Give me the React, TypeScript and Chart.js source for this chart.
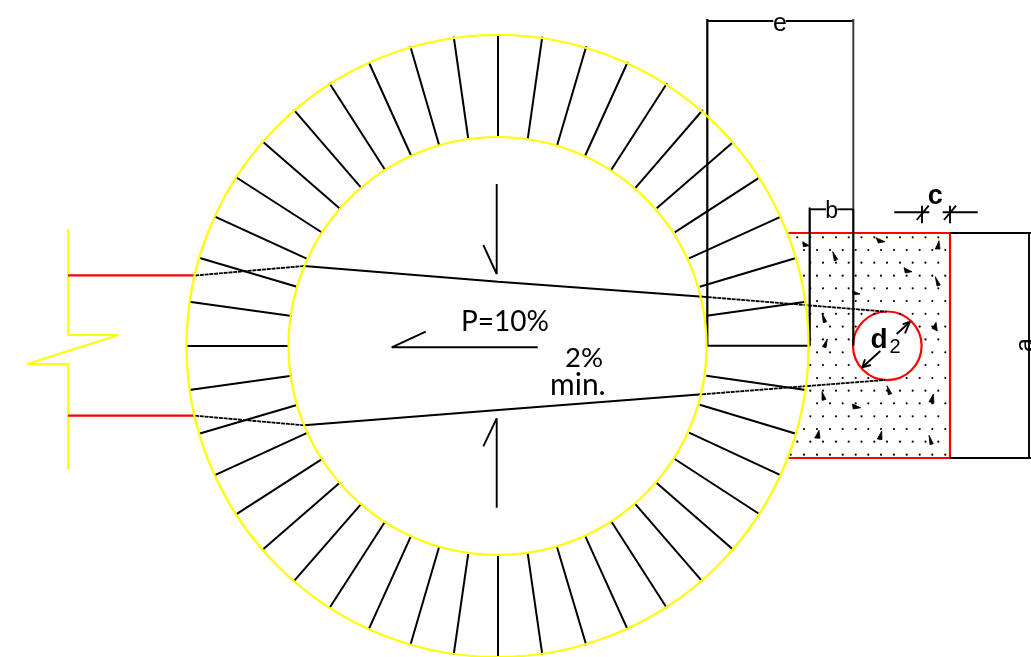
import React, { useEffect, useRef } from "react";
import { Chart, registerables } from "chart.js";

Chart.register(...registerables);

const WIDTH = 1031;
const HEIGHT = 657;

// Rings: centre x, centre y, radius (radius is read in pixels)
const yellowRings = [
  { x: 497.5, y: 346, r: 311 },
  { x: 497.5, y: 346, r: 209 },
];
const redCircle = [{ x: 887.3, y: 345.8, r: 34.3 }];

// Radial spokes between the two rings: x1, y1, x2, y2
const spokes = [
  [186, 346, 289, 346],
  [189.3, 301.7, 291.7, 316],
  [199, 257.7, 297.7, 287],
  [214.3, 216.3, 306.7, 258.7],
  [235.7, 177, 322.7, 233],
  [262.3, 141.3, 340.3, 209],
  [293.7, 109.7, 361.7, 188.3],
  [329.3, 83, 385.3, 170.3],
  [368.7, 62, 411.3, 156],
  [410.3, 46.3, 439.3, 145.7],
  [453.7, 36.7, 468.3, 139],
  [498, 34, 498, 137],
  [542.3, 36.7, 527.7, 139.3],
  [586.3, 46.3, 557, 145.7],
  [627.7, 62, 585, 156],
  [667, 83.3, 611, 170.3],
  [702.7, 110, 635, 188.3],
  [733, 142.3, 656.7, 208.3],
  [759.3, 177.7, 674.7, 232.3],
  [781, 216.7, 689, 258.3],
  [796, 258, 699.7, 286.7],
  [806, 301.7, 706.7, 315.7],
  [707.3, 345.7, 809.7, 345.7],
  [806, 390, 706.3, 375.7],
  [796, 433.7, 699.7, 404.7],
  [781, 475.3, 689, 432.7],
  [759.3, 514, 674.7, 459],
  [733.3, 549.7, 656.7, 483],
  [702.3, 581.3, 634.7, 503.3],
  [667, 608.3, 611, 521],
  [627.7, 629.7, 585, 535.7],
  [586.3, 645.3, 557, 547],
  [542.3, 654.7, 527.7, 553.3],
  [498, 656.7, 498, 555.7],
  [453.7, 654.7, 468.3, 553.3],
  [410.3, 645.3, 439.3, 546.3],
  [368.7, 629.3, 411.3, 535.3],
  [329.3, 608.3, 385.3, 521.3],
  [293.7, 581.3, 361.7, 503.3],
  [262.3, 550, 340.3, 482.3],
  [235.7, 514.7, 322.7, 458.7],
  [214.3, 475.3, 308.3, 432.3],
  [199, 433.7, 297.7, 404.7],
  [189.3, 390, 291.7, 375.7],
];

// The two pipe lines through the wall: solid and hidden (dashed) parts
const pipeSolid = [
  [304, 266, 498.3, 281.7, 703, 296.7],
  [304, 425.3, 498.3, 410, 702, 394.3],
];
const pipeDashed = [
  [195, 275.5, 304, 266],
  [703, 296.7, 886.7, 311.7],
  [195, 415.7, 304, 425.3],
  [702, 394.3, 885, 380],
];

const redLines = [
  [68, 275.3, 195, 275.3],
  [68, 415.7, 195, 415.7],
  [788.3, 233, 950, 233, 950, 458, 788.3, 458],
];
const yellowBreak = [68.3, 229.3, 68.3, 335, 118.3, 335, 27.3, 364, 68.3, 364, 68.3, 469.3];

// Dimension lines and arrows
const blackHeavy = [
  [707.3, 19, 707.3, 345.7],
  [853.3, 209, 853.3, 345.7],
  [809.7, 207.5, 809.7, 345.7],
];
const blackGrey = [[853.3, 19, 853.3, 209]];
const blackThin = [
  [707.3, 21, 773.3, 21],
  [786, 21, 853.3, 21],
  [809.7, 209.3, 826, 209.3],
  [837.3, 209.3, 853.3, 209.3],
  [894.3, 212.3, 929.3, 212.3],
  [942.7, 212.3, 977.7, 212.3],
  [922, 205.7, 922, 223.3],
  [950, 205.7, 950, 223.3],
  [916.7, 220, 928.7, 205.7],
  [944, 220, 956, 205.7],
  [950, 233, 1031, 233],
  [950, 458, 1031, 458],
  [1029, 233, 1029, 458],
  [880.3, 351, 862.3, 367.3],
  [865, 359.3, 862.3, 367.3, 870.7, 365],
  [896.7, 334, 910, 321.7],
  [902.7, 324.3, 910, 321.7, 905, 333.3],
  [496.7, 184, 496.7, 274, 483.3, 245],
  [496.7, 507.7, 496.7, 418.3, 483.3, 446.3],
  [537.7, 347.3, 391.7, 347.3, 425.7, 331.7],
];

// Concrete hatch: small wedges
const wedges = [
  [802.7, 241.7, 809.3, 245.7, 803.3, 246.7],
  [832.7, 251.7, 837.7, 259.3, 834.3, 261],
  [876, 237.7, 885, 241.7, 878.3, 243],
  [939, 240.7, 940, 249, 935.3, 249],
  [904, 267.7, 912, 271.7, 905.3, 273],
  [935.3, 276.7, 940.3, 285, 937, 286],
  [852.7, 291, 860, 294, 853.3, 294.7],
  [822, 313.3, 826.7, 321.7, 823.3, 322.7],
  [936, 322.3, 937.3, 331, 932, 328.3],
  [827.3, 339, 826, 347.7, 822.3, 346.7],
  [822, 391.7, 826, 399.3, 822.7, 400.3],
  [887, 385.7, 891.7, 393.7, 888.3, 394.7],
  [933.3, 394, 934, 403.3, 929, 401.7],
  [852.3, 404, 860.7, 407.7, 853.3, 409],
  [819, 430.3, 820, 438.3, 814.7, 438],
  [881.7, 431, 882, 439.7, 877.3, 439],
  [929, 435.3, 933.3, 443.7, 930, 444.7],
];

// Concrete hatch: dots by row
const dotRowY = [
  237.3, 250, 262.7, 275.7, 288.3, 301, 313.8, 326.6, 339.4, 352.3, 365, 378, 390.7, 403.3, 416.3, 429, 441.7,
  454.7,
];
const dotRowX = [
  [797.3, 810.3, 823, 836, 848.7, 861.5, 874.3, 887, 900, 912.7, 925.5, 938.3],
  [804, 817, 830, 842.7, 855.7, 868.3, 881, 894, 906.7, 919.7, 932.3, 945.3],
  [810.3, 823, 836, 848.7, 861.5, 874.3, 887, 900, 912.7, 925.5, 938.3],
  [804, 817, 830, 842.7, 855.7, 868.3, 881, 894, 906.7, 919.7, 932.3, 945.3],
  [810.3, 823, 836, 848.7, 861.5, 874.3, 887, 900, 912.7, 925.5, 938.3],
  [817, 830, 842.7, 855.7, 868.3, 881, 894, 906.7, 919.7, 932.3, 945.3],
  [810.3, 823, 836, 848.7, 861.5, 874.3, 900, 912.7, 925.5, 938.3],
  [817, 830, 842.7, 855.7, 919.7, 932.3, 945.3],
  [810.3, 823, 836, 848.7, 925.5, 938.3],
  [817, 830, 842.7, 932.3, 945.3],
  [810.3, 823, 836, 848.7, 925.5, 938.3],
  [817, 830, 842.7, 855.7, 868.3, 906.7, 919.7, 932.3, 945.3],
  [810.3, 823, 836, 848.7, 861.5, 874.3, 887, 900, 912.7, 925.5, 938.3],
  [817, 830, 842.7, 855.7, 868.3, 881, 894, 906.7, 919.7, 932.3, 945.3],
  [810.3, 823, 836, 848.7, 861.5, 874.3, 887, 900, 912.7, 925.5, 938.3],
  [804, 817, 830, 842.7, 855.7, 868.3, 881, 894, 906.7, 919.7, 932.3, 945.3],
  [797.3, 810.3, 823, 836, 848.7, 861.5, 874.3, 887, 900, 912.7, 925.5, 938.3],
  [790.7, 804, 817, 830, 842.7, 855.7, 868.3, 881, 894, 906.7, 919.7, 932.3, 945.3],
];

// Text labels
const labels = [
  { text: "P=10%", x: 461, y: 330.7, font: "28px Lato", align: "left", rot: 0 },
  { text: "2%", x: 565, y: 366.7, font: "27.5px Lato", align: "left", rot: 0 },
  { text: "min.", x: 550, y: 395, font: "30px Lato", align: "left", rot: 0 },
  { text: "e", x: 780, y: 31, font: "25px 'Liberation Sans'", align: "center", rot: 0 },
  { text: "b", x: 831.7, y: 218, font: "23px 'Liberation Sans'", align: "center", rot: 0 },
  { text: "c", x: 935.3, y: 204, font: "bold 27px 'Liberation Sans'", align: "center", rot: 0 },
  { text: "d", x: 879, y: 348, font: "bold 28px 'Liberation Sans'", align: "center", rot: 0 },
  { text: "2", x: 895, y: 352.5, font: "20px 'Liberation Sans'", align: "center", rot: 0 },
  { text: "a", x: 1033, y: 345, font: "25px 'Liberation Sans'", align: "center", rot: -90 },
];

const toPoints = (flat: number[]) => {
  const pts = [];
  for (let i = 0; i < flat.length; i += 2) pts.push({ x: flat[i], y: flat[i + 1] });
  return pts;
};

const lineSet = (flat: number[], color: string, width: number, extra: object = {}) => ({
  data: toPoints(flat),
  showLine: true,
  borderColor: color,
  borderWidth: width,
  borderJoinStyle: "bevel",
  pointRadius: 0,
  pointHoverRadius: 0,
  tension: 0,
  fill: false,
  clip: false,
  ...extra,
});

const circleSet = (c: { x: number; y: number; r: number }, color: string, width: number) => ({
  data: [{ x: c.x, y: c.y }],
  showLine: false,
  pointRadius: c.r,
  pointHoverRadius: c.r,
  pointBackgroundColor: "rgba(0,0,0,0)",
  pointBorderColor: color,
  pointBorderWidth: width,
  clip: false,
});

const textPlugin = {
  id: "drawingText",
  afterDraw(chart: any) {
    const { ctx, scales } = chart;
    ctx.save();
    ctx.fillStyle = "#000000";
    ctx.textBaseline = "alphabetic";
    for (const l of labels) {
      ctx.save();
      ctx.translate(scales.x.getPixelForValue(l.x), scales.y.getPixelForValue(l.y));
      ctx.rotate((l.rot * Math.PI) / 180);
      ctx.font = l.font;
      ctx.textAlign = l.align;
      ctx.fillText(l.text, 0, 0);
      ctx.restore();
    }
    ctx.restore();
  },
};

export default function App() {
  const ref = useRef<HTMLCanvasElement | null>(null);

  useEffect(() => {
    document.body.style.margin = "0";
    const datasets: any[] = [];
    yellowRings.forEach((c) => datasets.push(circleSet(c, "#ffff00", 2.2)));
    spokes.forEach((s) => datasets.push(lineSet(s, "#000000", 2)));
    datasets.push({
      data: dotRowY.flatMap((y, i) => dotRowX[i].map((x) => ({ x, y }))),
      showLine: false,
      pointRadius: 1.1,
      pointHoverRadius: 1.1,
      pointBackgroundColor: "#000000",
      pointBorderWidth: 0,
      clip: false,
    });
    wedges.forEach((w) =>
      datasets.push(
        lineSet([...w, w[0], w[1]], "#000000", 0.8, { fill: "shape", backgroundColor: "#000000" })
      )
    );
    pipeSolid.forEach((s) => datasets.push(lineSet(s, "#000000", 2)));
    pipeDashed.forEach((s) => datasets.push(lineSet(s, "#000000", 1.8, { borderDash: [4, 0.8] })));
    blackGrey.forEach((s) => datasets.push(lineSet(s, "#3a3a3a", 2)));
    blackHeavy.forEach((s) => datasets.push(lineSet(s, "#000000", 2.2)));
    blackThin.forEach((s) => datasets.push(lineSet(s, "#000000", 1.9)));
    redLines.forEach((s) => datasets.push(lineSet(s, "#ff0000", 2.2)));
    datasets.push(lineSet(yellowBreak, "#ffff00", 2.2));
    redCircle.forEach((c) => datasets.push(circleSet(c, "#ff0000", 2.2)));

    const chart = new Chart(ref.current as HTMLCanvasElement, {
      type: "scatter",
      data: { datasets },
      plugins: [textPlugin],
      options: {
        responsive: false,
        animation: false,
        events: [],
        layout: { padding: 0, autoPadding: false },
        scales: {
          x: { type: "linear", min: 0, max: WIDTH, display: false },
          y: { type: "linear", min: 0, max: HEIGHT, reverse: true, display: false },
        },
        plugins: { legend: { display: false }, tooltip: { enabled: false }, title: { display: false } },
      },
    } as any);
    return () => chart.destroy();
  }, []);

  return <canvas ref={ref} width={WIDTH} height={HEIGHT} style={{ display: "block", width: WIDTH, height: HEIGHT }} />;
}
